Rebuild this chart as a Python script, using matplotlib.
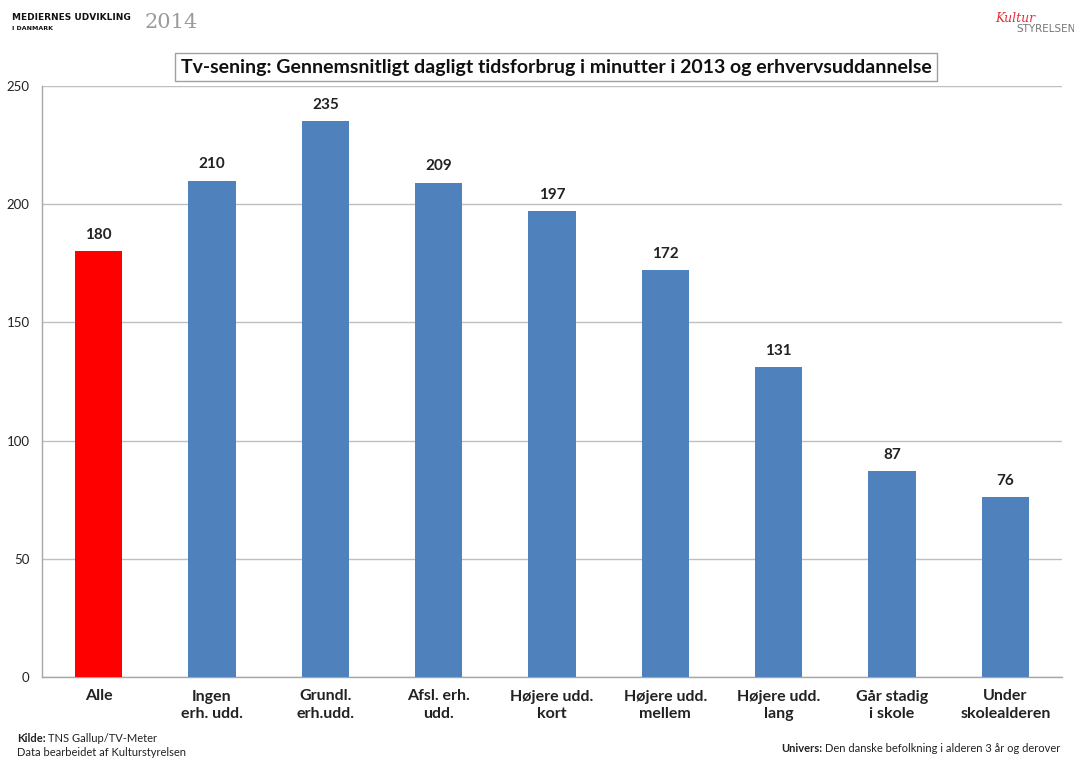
import matplotlib
matplotlib.use("Agg")
import matplotlib.pyplot as plt

categories = ["Alle", "Ingen\nerh. udd.", "Grundl.\nerh.udd.", "Afsl. erh.\nudd.",
              "Højere udd.\nkort", "Højere udd.\nmellem", "Højere udd.\nlang",
              "Går stadig\ni skole", "Under\nskolealderen"]
values = [180, 210, 235, 209, 197, 172, 131, 87, 76]
yticks = [0, 50, 100, 150, 200, 250]

title = "Tv-sening: Gennemsnitligt dagligt tidsforbrug i minutter i 2013 og erhvervsuddannelse"

plt.rcParams['font.family'] = ['Lato', 'DejaVu Sans']

W, H = 1074, 758
fig = plt.figure(figsize=(W / 100, H / 100), dpi=100)
ax = fig.add_axes([42 / W, 1 - 677 / H, (1062 - 42) / W, (677 - 86) / H])

colors = ["#FF0000"] + ["#4F81BD"] * (len(values) - 1)
x = list(range(len(categories)))
ax.bar(x, values, width=0.415, color=colors, zorder=3)

for xi, v in zip(x, values):
    ax.text(xi, v + 4, str(v), ha="center", va="bottom", fontsize=11,
            fontweight="bold", color="#222222")

ax.set_xlim(-0.5, len(categories) - 0.5)
ax.set_ylim(0, 250)
ax.set_yticks(yticks)
ax.set_yticklabels([str(t) for t in yticks], fontsize=9.5, color="#222222")
ax.set_xticks(x)
ax.set_xticklabels(categories, fontsize=11.5, fontweight="bold", color="#222222",
                   linespacing=1.35)
ax.tick_params(axis="both", length=0)
ax.tick_params(axis="x", pad=9)
ax.tick_params(axis="y", pad=9)
ax.yaxis.grid(True, color="#BFBFBF", linewidth=1, zorder=0)
for s in ["top", "right"]:
    ax.spines[s].set_visible(False)
for s in ["left", "bottom"]:
    ax.spines[s].set_color("#A6A6A6")
    ax.spines[s].set_linewidth(1)

# Title in a framed box
fig.text(556 / W, 1 - 67 / H, title, ha="center", va="center", fontsize=14,
         fontweight="bold", color="#111111",
         bbox=dict(boxstyle="square,pad=0.3", fc="white", ec="#A0A0A0", lw=1))

# Header branding
fig.text(12 / W, 1 - 17 / H, "MEDIERNES UDVIKLING", ha="left", va="center",
         fontsize=6.5, fontweight="heavy", color="#111111", family="DejaVu Sans")
fig.text(12 / W, 1 - 28 / H, "I DANMARK", ha="left", va="center",
         fontsize=4.5, fontweight="bold", color="#111111", family="DejaVu Sans")
fig.text(145 / W, 1 - 22 / H, "2014", ha="left", va="center", fontsize=15,
         color="#9A9A9A", family="DejaVu Serif")
fig.text(1015 / W, 1 - 19 / H, "Kultur", ha="center", va="center", fontsize=9,
         color="#E0303A", style="italic", family="DejaVu Serif")
fig.text(1046 / W, 1 - 29 / H, "STYRELSEN", ha="center", va="center",
         fontsize=7.5, color="#777777", family="DejaVu Sans")

# Footer notes
fig.text(17 / W, 1 - 739 / H, "Kilde:", ha="left", va="center", fontsize=8,
         fontweight="bold", color="#222222")
fig.text(48 / W, 1 - 739 / H, "TNS Gallup/TV-Meter", ha="left", va="center",
         fontsize=8, color="#222222")
fig.text(17 / W, 1 - 753 / H, "Data bearbeidet af Kulturstyrelsen", ha="left",
         va="center", fontsize=8, color="#222222")
fig.text(781 / W, 1 - 748 / H, "Univers:", ha="left", va="center", fontsize=8,
         fontweight="bold", color="#222222")
fig.text(1060 / W, 1 - 748 / H, "Den danske befolkning i alderen 3 år og derover",
         ha="right", va="center", fontsize=8, color="#222222")

fig.savefig("out.png", dpi=100, facecolor="white")
